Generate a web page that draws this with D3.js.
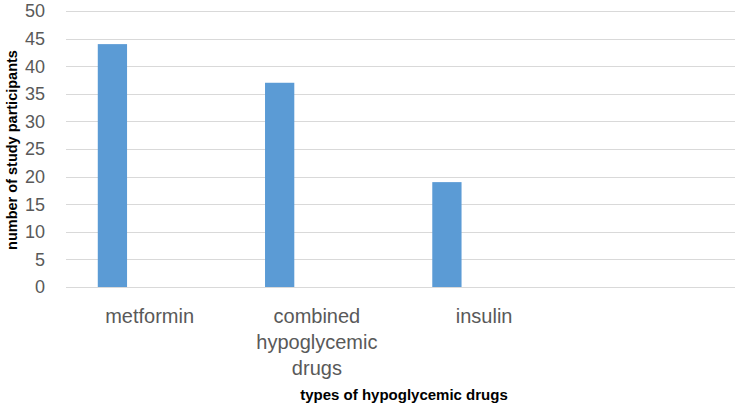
<!DOCTYPE html>
<html><head><meta charset="utf-8">
<script src="https://cdn.jsdelivr.net/npm/d3@7"></script>
<style>body{margin:0;background:#fff}svg{display:block}</style>
</head><body>
<svg id="c" width="735" height="405"></svg>
<script>
const categories = ["metformin", "combined hypoglycemic drugs", "insulin", ""];
const categoryLines = [["metformin"], ["combined", "hypoglycemic", "drugs"], ["insulin"], []];
const values = [44, 37, 19, null];
const yTicks = [0, 5, 10, 15, 20, 25, 30, 35, 40, 45, 50];
const xTitle = "types of hypoglycemic drugs";
const yTitle = "number of study participants";

(function(){
const svg = d3.select("#c");
const mLeft = 66, mRight = 735, mTop = 11, mBottom = 287;
const x = d3.scaleBand().domain(categories.map((d,i)=>i)).range([mLeft, mRight]).padding(0);
const y = d3.scaleLinear().domain([0, 50]).range([mBottom, mTop]);
const font = "'Liberation Sans', Arial, sans-serif";

svg.append("g").selectAll("line").data(yTicks).join("line")
  .attr("x1", mLeft).attr("x2", mRight)
  .attr("y1", d => Math.round(y(d)) + 0.5).attr("y2", d => Math.round(y(d)) + 0.5)
  .attr("stroke", "#d9d9d9").attr("stroke-width", 1);

svg.append("g").selectAll("text").data(yTicks).join("text")
  .attr("x", 45).attr("y", d => y(d)).attr("dy", "0.35em")
  .attr("text-anchor", "end").attr("font-family", font).attr("font-size", 18)
  .attr("fill", "#595959").text(d => d);

const bw = x.bandwidth();
svg.append("g").selectAll("rect").data(values.map((v,i)=>({v,i})).filter(d=>d.v!=null)).join("rect")
  .attr("x", d => x(d.i) + bw * 0.19).attr("width", bw * 0.175)
  .attr("y", d => y(d.v)).attr("height", d => y(0) - y(d.v))
  .attr("fill", "#5b9bd5");

const lab = svg.append("g");
categoryLines.forEach((lines, i) => {
  lines.forEach((ln, j) => {
    lab.append("text").attr("x", x(i) + bw/2).attr("y", 323 + j*26)
      .attr("text-anchor", "middle").attr("font-family", font).attr("font-size", 20)
      .attr("fill", "#595959").text(ln);
  });
});

svg.append("text").attr("x", 404).attr("y", 400).attr("text-anchor", "middle")
  .attr("font-family", font).attr("font-size", 15).attr("font-weight", "bold")
  .attr("fill", "#000").text(xTitle);

svg.append("text").attr("transform", "translate(17,150) rotate(-90)").attr("text-anchor", "middle")
  .attr("font-family", font).attr("font-size", 14.5).attr("font-weight", "bold")
  .attr("fill", "#000").text(yTitle);
})();
</script>
</body></html>
